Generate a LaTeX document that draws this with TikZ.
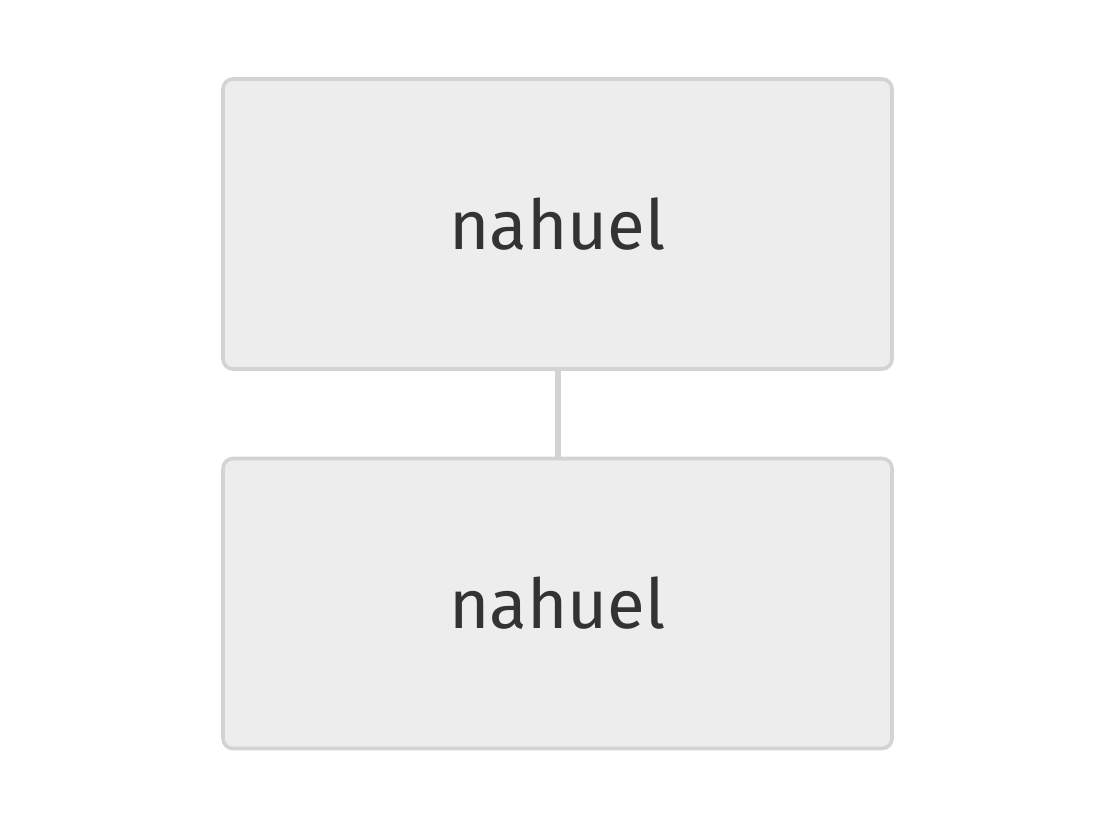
\documentclass[tikz,border=0pt]{standalone}
\usepackage{fontspec}
\setmainfont{Fira Sans}
\definecolor{boxfill}{HTML}{EDEDED}
\definecolor{boxline}{HTML}{D3D3D3}
\definecolor{txt}{HTML}{333333}
\begin{document}
\begin{tikzpicture}[x=1pt,y=-1pt,
  box/.style={draw=boxline,fill=boxfill,line width=3.6pt,rounded corners=10pt,
    minimum width=669pt,minimum height=290pt,inner sep=0pt,
    text=txt,font=\fontsize{69}{72}\selectfont},
  link/.style={draw=boxline,line width=6pt}]
\useasboundingbox (0,0) rectangle (1116,833);
\node[box] (a) at (557.5,224) {nahuel};
\node[box] (b) at (557.5,603.5) {nahuel};
\draw[link] (a.south) -- (b.north);
\end{tikzpicture}
\end{document}
